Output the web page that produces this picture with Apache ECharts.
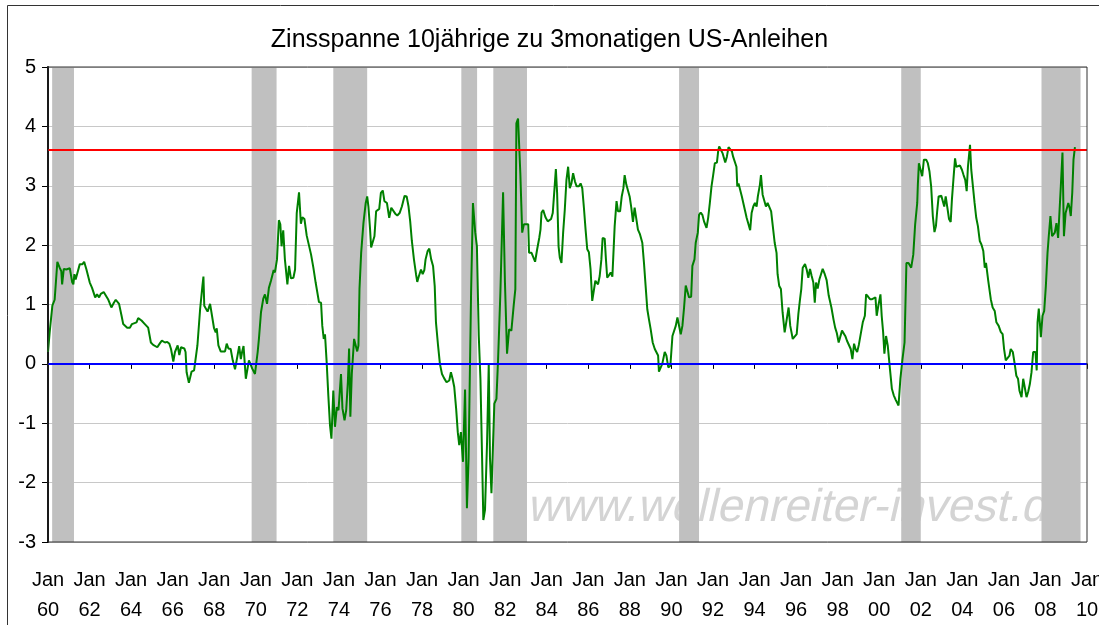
<!DOCTYPE html>
<html>
<head>
<meta charset="utf-8">
<title>Zinsspanne 10jährige zu 3monatigen US-Anleihen</title>
<script src="https://cdn.jsdelivr.net/npm/echarts@6.0.0/dist/echarts.min.js"></script>
<style>
  html, body { margin: 0; padding: 0; background: #fff; }
  #chart { width: 1099px; height: 625px; }
</style>
</head>
<body>
<div id="chart"></div>
<script>
// Zeitpunkte (Dezimaljahre) und Zinsspanne in Prozentpunkten
var dates = [
  1960.00, 1960.08, 1960.21, 1960.32, 1960.39, 1960.45, 1960.56, 1960.64, 1960.68, 1960.76, 1960.88,
  1961.05, 1961.16, 1961.22, 1961.27, 1961.33, 1961.53, 1961.66, 1961.74, 1961.85,
  1962.01, 1962.12, 1962.27, 1962.36, 1962.46, 1962.54, 1962.68, 1962.77, 1962.89,
  1963.05, 1963.17, 1963.26, 1963.42, 1963.54, 1963.62, 1963.71, 1963.81, 1963.94,
  1964.04, 1964.13, 1964.26, 1964.34, 1964.50, 1964.66, 1964.82, 1964.95,
  1965.06, 1965.26, 1965.39, 1965.48, 1965.63, 1965.74, 1965.84, 1965.92,
  1966.03, 1966.11, 1966.24, 1966.32, 1966.40, 1966.56, 1966.62, 1966.67, 1966.78, 1966.91,
  1967.03, 1967.19, 1967.32, 1967.43, 1967.48, 1967.52, 1967.60, 1967.68, 1967.80, 1967.88, 1967.99,
  1968.07, 1968.12, 1968.20, 1968.31, 1968.52, 1968.60, 1968.68, 1968.79, 1968.89,
  1969.00, 1969.12, 1969.20, 1969.28, 1969.34, 1969.41, 1969.47, 1969.52, 1969.60, 1969.67, 1969.76, 1969.83, 1969.96,
  1970.09, 1970.15, 1970.25, 1970.36, 1970.44, 1970.54, 1970.63, 1970.73, 1970.86, 1970.92,
  1971.02, 1971.11, 1971.18, 1971.24, 1971.32, 1971.40, 1971.52, 1971.60, 1971.69, 1971.81, 1971.89, 1971.97,
  1972.08, 1972.17, 1972.24, 1972.34, 1972.45, 1972.53, 1972.66, 1972.77, 1972.88,
  1973.04, 1973.14, 1973.20, 1973.27, 1973.33, 1973.41, 1973.49, 1973.57, 1973.64, 1973.69, 1973.73, 1973.81, 1973.90, 1973.98,
  1974.02, 1974.10, 1974.17, 1974.27, 1974.35, 1974.43, 1974.49, 1974.55, 1974.62, 1974.73, 1974.81, 1974.88, 1974.94, 1974.99,
  1975.07, 1975.18, 1975.29, 1975.36, 1975.42, 1975.50, 1975.55, 1975.62, 1975.71, 1975.79, 1975.87, 1975.94,
  1976.02, 1976.11, 1976.19, 1976.31, 1976.42, 1976.52, 1976.60, 1976.71, 1976.81, 1976.92,
  1977.03, 1977.16, 1977.26, 1977.35, 1977.43, 1977.51, 1977.61, 1977.71, 1977.77, 1977.85, 1977.95,
  1978.03, 1978.11, 1978.17, 1978.27, 1978.35, 1978.44, 1978.53, 1978.61, 1978.67, 1978.77, 1978.86, 1978.96,
  1979.06, 1979.12, 1979.18, 1979.25, 1979.31, 1979.39, 1979.47, 1979.55, 1979.64, 1979.72, 1979.79, 1979.87, 1979.97,
  1980.07, 1980.16, 1980.24, 1980.36, 1980.45, 1980.56, 1980.64, 1980.73, 1980.81, 1980.89, 1980.95,
  1981.03, 1981.13, 1981.21, 1981.27, 1981.34, 1981.42, 1981.48, 1981.58, 1981.66, 1981.77, 1981.90, 1981.99,
  1982.09, 1982.19, 1982.30, 1982.41, 1982.49, 1982.54, 1982.62, 1982.67, 1982.73, 1982.82, 1982.90,
  1983.01, 1983.11, 1983.15, 1983.27, 1983.36, 1983.44, 1983.54, 1983.64, 1983.70, 1983.75, 1983.83, 1983.94,
  1984.05, 1984.13, 1984.21, 1984.29, 1984.37, 1984.44, 1984.50, 1984.57, 1984.63, 1984.71, 1984.79, 1984.87, 1984.95,
  1985.03, 1985.08, 1985.11, 1985.19, 1985.27, 1985.36, 1985.44, 1985.55, 1985.63, 1985.71, 1985.79, 1985.87, 1985.95,
  1986.03, 1986.11, 1986.19, 1986.27, 1986.34, 1986.40, 1986.47, 1986.55, 1986.63, 1986.69, 1986.79, 1986.85, 1986.91, 1986.99,
  1987.08, 1987.16, 1987.27, 1987.36, 1987.43, 1987.53, 1987.61, 1987.69, 1987.75, 1987.83, 1987.91, 1987.99,
  1988.07, 1988.15, 1988.23, 1988.31, 1988.39, 1988.49, 1988.60, 1988.68, 1988.76, 1988.84, 1988.92,
  1989.00, 1989.10, 1989.20, 1989.29, 1989.36, 1989.40, 1989.48, 1989.56, 1989.68, 1989.76, 1989.85, 1989.95,
  1990.05, 1990.13, 1990.21, 1990.29, 1990.37, 1990.45, 1990.53, 1990.61, 1990.69, 1990.77, 1990.85, 1990.95,
  1991.01, 1991.11, 1991.17, 1991.27, 1991.33, 1991.41, 1991.49, 1991.57, 1991.69, 1991.77, 1991.85, 1991.93,
  1992.01, 1992.09, 1992.19, 1992.25, 1992.30, 1992.38, 1992.46, 1992.54, 1992.59, 1992.67, 1992.75, 1992.83, 1992.91, 1992.97,
  1993.05, 1993.13, 1993.17, 1993.23, 1993.31, 1993.39, 1993.46, 1993.55, 1993.62, 1993.71, 1993.79, 1993.86, 1993.94,
  1994.02, 1994.10, 1994.16, 1994.26, 1994.31, 1994.39, 1994.47, 1994.55, 1994.63, 1994.71, 1994.80, 1994.87, 1994.97,
  1995.06, 1995.11, 1995.19, 1995.27, 1995.35, 1995.45, 1995.55, 1995.64, 1995.72, 1995.84, 1995.93,
  1996.03, 1996.11, 1996.19, 1996.25, 1996.32, 1996.43, 1996.51, 1996.59, 1996.67, 1996.75, 1996.83, 1996.90, 1996.96,
  1997.04, 1997.12, 1997.20, 1997.28, 1997.38, 1997.47, 1997.57, 1997.64, 1997.70, 1997.80, 1997.88, 1997.96,
  1998.05, 1998.13, 1998.21, 1998.29, 1998.38, 1998.45, 1998.54, 1998.63, 1998.71, 1998.79, 1998.86, 1998.94,
  1999.02, 1999.11, 1999.21, 1999.31, 1999.37, 1999.47, 1999.56, 1999.66, 1999.74, 1999.82, 1999.88, 1999.96,
  2000.06, 2000.12, 2000.19, 2000.25, 2000.33, 2000.41, 2000.51, 2000.61, 2000.70, 2000.80, 2000.93,
  2001.02, 2001.12, 2001.22, 2001.31, 2001.41, 2001.54, 2001.64, 2001.73, 2001.83, 2001.86, 2001.91, 2001.99,
  2002.07, 2002.15, 2002.26, 2002.34, 2002.42, 2002.50, 2002.58, 2002.66, 2002.73, 2002.79, 2002.86, 2002.99,
  2003.07, 2003.13, 2003.20, 2003.28, 2003.36, 2003.44, 2003.50, 2003.57, 2003.65, 2003.71, 2003.79, 2003.89, 2003.98,
  2004.06, 2004.14, 2004.21, 2004.27, 2004.37, 2004.43, 2004.51, 2004.59, 2004.67, 2004.75, 2004.84, 2004.92,
  2005.01, 2005.08, 2005.14, 2005.24, 2005.37, 2005.46, 2005.56, 2005.64, 2005.75, 2005.85, 2005.94,
  2006.01, 2006.09, 2006.17, 2006.27, 2006.33, 2006.43, 2006.52, 2006.60, 2006.68, 2006.75, 2006.85, 2006.93,
  2007.01, 2007.09, 2007.17, 2007.25, 2007.33, 2007.41, 2007.47, 2007.52, 2007.58, 2007.62, 2007.68, 2007.78, 2007.86, 2007.94,
  2008.02, 2008.10, 2008.16, 2008.24, 2008.32, 2008.39, 2008.45, 2008.53, 2008.61, 2008.68, 2008.74, 2008.82, 2008.89, 2008.97,
  2009.05, 2009.10, 2009.16, 2009.22, 2009.29, 2009.35, 2009.42
];

var spread = [
  0.20, 0.53, 0.98, 1.08, 1.09, 1.72, 1.62, 1.56, 1.34, 1.60, 1.59,
  1.61, 1.38, 1.34, 1.51, 1.42, 1.68, 1.68, 1.72, 1.59,
  1.37, 1.28, 1.12, 1.17, 1.12, 1.18, 1.21, 1.20, 1.09,
  0.95, 1.03, 1.08, 1.01, 0.81, 0.67, 0.70, 0.61, 0.61,
  0.67, 0.64, 0.70, 0.77, 0.73, 0.67, 0.61, 0.36,
  0.32, 0.28, 0.35, 0.39, 0.36, 0.37, 0.34, 0.25,
  0.04, 0.20, 0.31, 0.15, 0.28, 0.26, 0.20, -0.14, -0.32, -0.13,
  -0.11, 0.31, 0.92, 1.31, 1.47, 0.98, 0.98, 0.88, 1.01, 1.01, 0.60,
  0.53, 0.60, 0.31, 0.21, 0.21, 0.34, 0.26, 0.25, 0.06,
  -0.09, 0.14, 0.30, 0.08, 0.20, 0.30, 0.00, -0.25, -0.26, 0.06, 0.09, -0.08, -0.17,
  0.20, 0.42, 0.87, 1.10, 1.17, 1.01, 1.28, 1.40, 1.58, 1.54,
  1.76, 2.42, 2.35, 1.98, 2.25, 1.76, 1.34, 1.65, 1.44, 1.45, 1.59, 2.54,
  2.89, 2.36, 2.47, 2.44, 2.16, 2.18, 1.84, 1.62, 1.37,
  1.04, 1.03, 0.64, 0.42, 0.50, 0.03, -0.53, -1.03, -1.26, -1.23, -0.45, -1.06, -0.73, -0.78,
  -0.75, -0.17, -0.75, -0.95, -0.78, -0.31, 0.26, -0.89, -0.17, 0.42, 0.43, 0.21, 0.31, 1.26,
  1.87, 2.37, 2.71, 2.82, 2.65, 2.26, 1.96, 1.96, 2.15, 2.57, 2.57, 2.61,
  2.88, 2.92, 2.74, 2.71, 2.46, 2.63, 2.60, 2.53, 2.50, 2.54,
  2.65, 2.83, 2.82, 2.65, 2.40, 2.07, 1.76, 1.51, 1.38, 1.48, 1.59,
  1.51, 1.58, 1.76, 1.90, 1.94, 1.76, 1.65, 1.31, 0.70, 0.31, 0.00, -0.17,
  -0.24, -0.22, -0.31, -0.31, -0.28, -0.14, -0.25, -0.39, -0.75, -1.15, -1.37, -1.15, -1.65,
  -0.43, -2.43, -1.59, 1.20, 2.71, 2.21, 1.98, 0.47, -0.25, -1.59, -2.63,
  -2.46, -1.31, 0.00, -1.59, -2.18, -1.31, -0.67, -0.59, 0.08, 1.20, 2.89, 1.37,
  0.17, 0.58, 0.56, 0.98, 1.26, 4.05, 4.13, 4.16, 3.21, 2.21, 2.35,
  2.35, 2.35, 1.87, 1.87, 1.87, 1.72, 1.93, 2.12, 2.26, 2.55, 2.59, 2.47,
  2.40, 2.37, 2.44, 2.54, 2.93, 3.28, 2.88, 1.98, 1.79, 1.70, 2.21, 2.60, 3.10,
  3.32, 3.35, 2.96, 3.04, 3.21, 3.07, 2.99, 2.99, 3.04, 2.96, 2.63, 2.26, 1.93,
  1.88, 1.59, 1.06, 1.06, 1.40, 1.42, 1.34, 1.48, 1.76, 2.12, 2.11, 1.76, 1.45, 1.49,
  1.54, 1.47, 2.32, 2.74, 2.57, 2.57, 2.82, 2.96, 3.18, 3.02, 3.02, 2.82,
  2.63, 2.39, 2.63, 2.65, 2.26, 2.18, 2.04, 1.70, 1.31, 0.92, 0.75,
  0.59, 0.36, 0.25, 0.22, 0.14, -0.13, -0.13, 0.00, 0.20, 0.14, -0.06, -0.03,
  0.47, 0.47, 0.64, 0.78, 0.75, 0.50, 0.64, 0.95, 1.32, 1.32, 1.12, 1.13,
  1.65, 1.76, 2.04, 2.21, 2.51, 2.55, 2.51, 2.40, 2.29, 2.46, 2.71, 2.99,
  3.18, 3.38, 3.39, 3.58, 3.66, 3.65, 3.55, 3.58, 3.39, 3.49, 3.65, 3.65, 3.58, 3.49,
  3.49, 3.32, 2.99, 3.04, 3.02, 2.82, 2.71, 2.57, 2.46, 2.35, 2.25, 2.54, 2.65,
  2.71, 2.65, 2.82, 3.02, 3.18, 2.85, 2.85, 2.65, 2.71, 2.70, 2.57, 2.35, 2.04,
  1.87, 1.51, 1.31, 1.26, 0.87, 0.53, 0.75, 0.95, 0.64, 0.42, 0.45,
  0.50, 0.84, 1.09, 1.26, 1.62, 1.68, 1.59, 1.45, 1.60, 1.48, 1.37, 1.03, 1.37,
  1.27, 1.42, 1.51, 1.60, 1.51, 1.41, 1.15, 1.12, 0.95, 0.75, 0.61, 0.52,
  0.36, 0.35, 0.56, 0.56, 0.46, 0.39, 0.36, 0.25, 0.08, 0.34, 0.25, 0.20,
  0.32, 0.50, 0.70, 0.81, 1.17, 1.13, 1.09, 1.09, 1.12, 1.12, 0.81, 0.98,
  1.17, 0.81, 0.53, 0.17, 0.47, 0.31, -0.06, -0.42, -0.53, -0.61, -0.70,
  -0.25, 0.08, 0.36, 1.70, 1.70, 1.62, 1.84, 2.35, 2.71, 3.02, 3.38, 3.35,
  3.16, 3.44, 3.44, 3.38, 3.24, 2.99, 2.49, 2.22, 2.32, 2.57, 2.82, 2.83,
  2.82, 2.65, 2.82, 2.63, 2.44, 2.39, 2.77, 3.10, 3.46, 3.32, 3.32, 3.34, 3.27,
  3.18, 3.10, 2.91, 3.32, 3.69, 3.27, 2.99, 2.71, 2.46, 2.32, 2.07, 2.01,
  1.90, 1.62, 1.70, 1.42, 1.09, 0.95, 0.89, 0.70, 0.64, 0.54, 0.50,
  0.25, 0.06, 0.03, 0.14, 0.25, 0.20, 0.00, -0.20, -0.25, -0.45, -0.56, -0.25,
  -0.25, -0.56, -0.47, -0.34, -0.14, 0.20, 0.22, 0.20, -0.11, 0.70, 0.93, 0.45, 0.81, 0.89,
  1.31, 1.87, 2.15, 2.49, 2.15, 2.15, 2.21, 2.37, 2.12, 2.15, 2.99, 3.56, 2.15, 2.54,
  2.57, 2.71, 2.63, 2.49, 2.88, 3.44, 3.65
];

// Rezessionsphasen (graue Balken), Beginn und Ende als Dezimaljahr
var recessionStart = [1960.2, 1969.8, 1973.73, 1979.89, 1981.43, 1990.37, 2001.06, 2007.81];
var recessionEnd   = [1961.25, 1971.0, 1975.36, 1980.65, 1983.05, 1991.33, 2002.0, 2009.69];

// Referenzlinien
var upperLevel = 3.6;
var zeroLevel = 0;

var chart = echarts.init(document.getElementById('chart'));

var fontName = 'Liberation Sans, Arial, sans-serif';
var gridLeft = 48, gridTop = 67, gridRight = 12, gridBottom = 83;

var option = {
  animation: false,
  backgroundColor: '#fff',
  title: {
    text: 'Zinsspanne 10jährige zu 3monatigen US-Anleihen',
    left: 'center',
    top: 23,
    textStyle: { fontFamily: fontName, fontSize: 25, fontWeight: 'normal', color: '#000' }
  },
  grid: {
    left: gridLeft, top: gridTop, right: gridRight, bottom: gridBottom,
    containLabel: false,
    outerBoundsMode: 'none'
  },
  xAxis: {
    type: 'value',
    min: 1960,
    max: 2010,
    interval: 2,
    axisLine: { lineStyle: { color: '#000', width: 1.5 } },
    axisTick: { show: true, length: 5, lineStyle: { color: '#000' } },
    splitLine: { show: false },
    axisLabel: {
      fontFamily: fontName,
      fontSize: 20,
      lineHeight: 30,
      color: '#000',
      margin: 23,
      showMaxLabel: true,
      hideOverlap: false,
      formatter: function (v) {
        var yy = String(Math.round(v) % 100);
        if (yy.length < 2) yy = '0' + yy;
        return 'Jan\n' + yy;
      }
    }
  },
  yAxis: {
    type: 'value',
    min: -3,
    max: 5,
    interval: 1,
    axisLine: { show: true, lineStyle: { color: '#000', width: 2 } },
    axisTick: { show: true, length: 6, lineStyle: { color: '#000' } },
    splitLine: { show: true, lineStyle: { color: '#c8c8c8', width: 1 } },
    axisLabel: { fontFamily: fontName, fontSize: 20, color: '#000', margin: 12 }
  },
  graphic: [
    {
      // Wasserzeichen, schräg gestellt
      type: 'text',
      x: 527,
      y: 485,
      skewX: -0.22,
      originX: 0,
      originY: 36,
      z: 1,
      silent: true,
      style: {
        text: 'www.wellenreiter-invest.de',
        fill: '#d4d4d4',
        font: '46px "Liberation Sans", Arial, sans-serif'
      }
    },
    {
      type: 'rect',
      z: 100,
      silent: true,
      shape: { x: gridLeft, y: gridTop, width: 1099 - gridLeft - gridRight, height: 625 - gridTop - gridBottom },
      style: { fill: 'none', stroke: '#333', lineWidth: 1 }
    },
    {
      type: 'rect',
      z: 100,
      silent: true,
      shape: { x: 7.5, y: 5.5, width: 1200, height: 700 },
      style: { fill: 'none', stroke: '#333', lineWidth: 1 }
    }
  ],
  series: [
    {
      name: 'Rezession',
      type: 'line',
      data: [],
      z: 1,
      silent: true,
      markArea: {
        silent: true,
        itemStyle: { color: '#c0c0c0', opacity: 1 },
        data: recessionStart.map(function (s, i) {
          return [{ xAxis: s }, { xAxis: recessionEnd[i] }];
        })
      }
    },
    {
      name: 'Referenz',
      type: 'line',
      data: [],
      z: 2,
      silent: true,
      markLine: {
        silent: true,
        symbol: 'none',
        label: { show: false },
        animation: false,
        data: [
          { yAxis: upperLevel, lineStyle: { color: '#ff0000', width: 2, type: 'solid' } },
          { yAxis: zeroLevel, lineStyle: { color: '#0000ff', width: 2, type: 'solid' } }
        ]
      }
    },
    {
      name: 'Zinsspanne',
      type: 'line',
      z: 3,
      showSymbol: false,
      symbol: 'none',
      lineStyle: { color: '#008000', width: 2 },
      data: dates.map(function (d, i) { return [d, spread[i]]; })
    }
  ]
};

chart.setOption(option);
</script>
</body>
</html>
